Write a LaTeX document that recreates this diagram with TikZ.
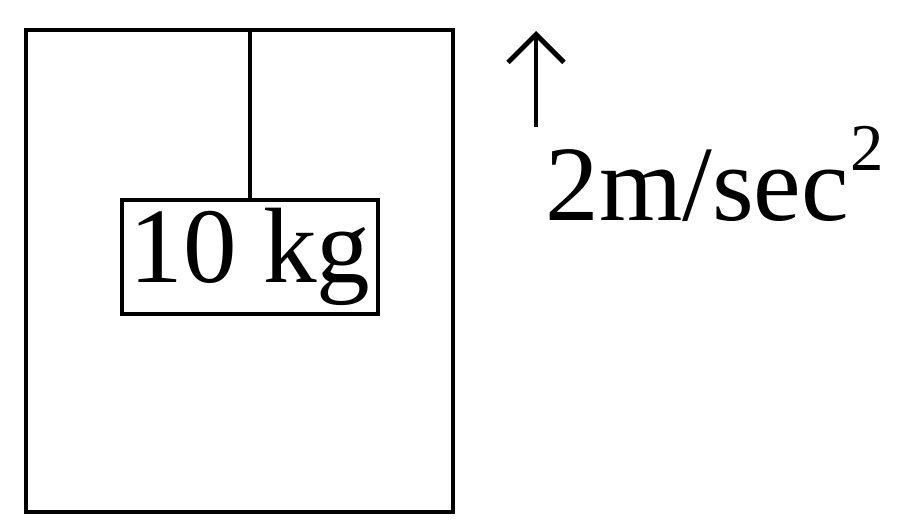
\documentclass[tikz,border=0pt]{standalone}
\usepackage{fontspec}
\setmainfont{Liberation Serif}
\usetikzlibrary{arrows.meta}

\begin{document}
\begin{tikzpicture}[x=0.02cm, y=-0.02cm, line width=2.8pt]
                \useasboundingbox (0,0) rectangle (900,528);
                \draw (26,30) rectangle (453,512);
                \node[draw, minimum width=5.12cm, minimum height=2.28cm, inner sep=0pt,
                      font=\fontsize{61}{72}\selectfont] (mass) at (250,257) {10 kg};
                \coordinate (hook) at (250,30);
                \draw (hook) -- (mass.north);
                \coordinate (tail) at (536,127);
                \coordinate (tip) at (536,31);
                \draw[-{Straight Barb[length=0.56cm, width=1.12cm]}] (tail) -- (tip);
                \node[anchor=base west, inner sep=0pt, font=\fontsize{61}{72}\selectfont] (acc) at (543,220)
                    {2m/sec\kern1pt\raisebox{28pt}{\fontsize{38}{38}\selectfont 2}};
            \end{tikzpicture}
\end{document}
